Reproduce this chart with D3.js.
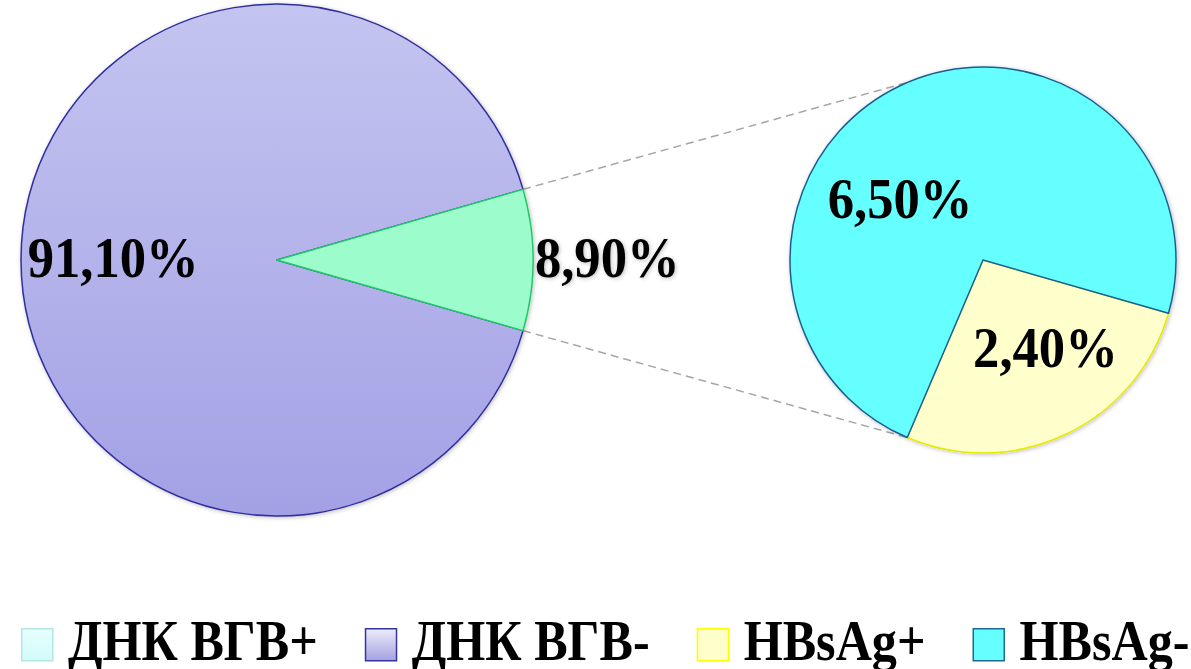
<!DOCTYPE html>
<html>
<head>
<meta charset="utf-8">
<script src="https://cdn.jsdelivr.net/npm/d3@7"></script>
<style>
  body { margin: 0; background: #fff; }
  svg { display: block; }
  text { font-family: 'Liberation Serif', 'Times New Roman', serif; font-weight: bold; fill: #000; }
</style>
</head>
<body>
<svg width="1191" height="669"></svg>
<script>
// data
const mainLabels = ['ДНК ВГВ+', 'ДНК ВГВ-'];
const mainValues = [8.9, 91.1];
const subLabels = ['HBsAg+', 'HBsAg-'];
const subValues = [2.4, 6.5];
const legendLabels = ['ДНК ВГВ+', 'ДНК ВГВ-', 'HBsAg+', 'HBsAg-'];

const fmt = (v) => v.toFixed(2).replace('.', ',') + '%';

const svg = d3.select('svg');
const defs = svg.append('defs');

// purple gradient for the big slice
const grad = defs.append('linearGradient')
    .attr('id', 'purple').attr('x1', 0).attr('y1', 0).attr('x2', 0).attr('y2', 1);
grad.append('stop').attr('offset', '0%').attr('stop-color', '#c4c4f0');
grad.append('stop').attr('offset', '100%').attr('stop-color', '#a3a1e5');

const lgrad = defs.append('linearGradient')
    .attr('id', 'purpleLeg').attr('x1', 0).attr('y1', 0).attr('x2', 0).attr('y2', 1);
lgrad.append('stop').attr('offset', '0%').attr('stop-color', '#ececfa');
lgrad.append('stop').attr('offset', '100%').attr('stop-color', '#a4a2e2');

const cgrad = defs.append('linearGradient')
    .attr('id', 'cyanLeg').attr('x1', 0).attr('y1', 0).attr('x2', 0).attr('y2', 1);
cgrad.append('stop').attr('offset', '0%').attr('stop-color', '#e6fffd');
cgrad.append('stop').attr('offset', '100%').attr('stop-color', '#d2fbf8');

defs.append('filter').attr('id', 'shadow')
    .attr('x', '-10%').attr('y', '-10%').attr('width', '120%').attr('height', '120%')
  .append('feDropShadow')
    .attr('dx', 1).attr('dy', 1).attr('stdDeviation', 2)
    .attr('flood-color', '#000').attr('flood-opacity', 0.25);

// geometry
const main = {cx: 277, cy: 260, r: 256};
const sub = {cx: 983, cy: 260, r: 193};

const mainFill = ['#9cfccb', 'url(#purple)'];
const mainStroke = ['#20c868', '#2f2f9c'];
const subFill = ['#ffffcc', '#66ffff'];
const subStroke = ['#e8e800', '#1b5f8f'];

// green slice centred on the right
const total = d3.sum(mainValues);
const greenAngle = mainValues[0] / total * 2 * Math.PI;
const mainStart = Math.PI / 2 - greenAngle / 2;

const mainPie = d3.pie().sort(null).startAngle(mainStart).endAngle(mainStart + 2 * Math.PI);
const mainArcs = mainPie(mainValues);

const subStart = mainStart + greenAngle;
const subPie = d3.pie().sort(null).startAngle(subStart).endAngle(subStart + 2 * Math.PI);
const subArcs = subPie(subValues);

const arcMain = d3.arc().innerRadius(0).outerRadius(main.r);
const arcSub = d3.arc().innerRadius(0).outerRadius(sub.r);

const pt = (c, a) => [c.cx + c.r * Math.sin(a), c.cy - c.r * Math.cos(a)];

// connector lines
const lowSub = subArcs[0].endAngle;
const highSub = Math.PI - lowSub;
const connectors = [
  [pt(main, mainStart), pt(sub, highSub)],
  [pt(main, mainStart + greenAngle), pt(sub, lowSub)]
];
svg.append('g').selectAll('line')
  .data(connectors)
  .join('line')
    .attr('x1', (d) => d[0][0]).attr('y1', (d) => d[0][1])
    .attr('x2', (d) => d[1][0]).attr('y2', (d) => d[1][1])
    .attr('stroke', '#a6a6a6')
    .attr('stroke-width', 1.5)
    .attr('stroke-dasharray', '8,5');

// main pie, big slice first so the green outline sits on top
const gMain = svg.append('g')
    .attr('transform', 'translate(' + main.cx + ',' + main.cy + ')')
    .attr('filter', 'url(#shadow)');
gMain.selectAll('path')
  .data([mainArcs[1], mainArcs[0]])
  .join('path')
    .attr('d', arcMain)
    .attr('fill', (d) => mainFill[d.index])
    .attr('stroke', (d) => mainStroke[d.index])
    .attr('stroke-width', 1.5)
    .attr('stroke-linejoin', 'round');

const gSub = svg.append('g')
    .attr('transform', 'translate(' + sub.cx + ',' + sub.cy + ')')
    .attr('filter', 'url(#shadow)');
gSub.selectAll('path')
  .data(subArcs)
  .join('path')
    .attr('d', arcSub)
    .attr('fill', (d) => subFill[d.index])
    .attr('stroke', (d) => subStroke[d.index])
    .attr('stroke-width', 1.5)
    .attr('stroke-linejoin', 'round');

// data labels
const labelScale = 0.94;
function label(g, c, d, ratio, nudge) {
  const a = (d.startAngle + d.endAngle) / 2;
  const x = c.r * ratio * Math.sin(a) + nudge[0];
  const y = -c.r * ratio * Math.cos(a) + nudge[1];
  g.append('text')
      .attr('transform', 'translate(' + x + ',' + y + ') scale(' + labelScale + ',1)')
      .attr('text-anchor', 'middle')
      .attr('dy', '0.34em')
      .style('font-size', '56px')
      .text(fmt(d.data));
}
label(gMain, main, mainArcs[1], 0.64, [0, -2]);
label(gMain, main, mainArcs[0], 1.29, [0, -2]);
label(gSub, sub, subArcs[0], 0.56, [16, -10]);
label(gSub, sub, subArcs[1], 0.53, [-39, 31]);

// legend
const legFill = ['url(#cyanLeg)', 'url(#purpleLeg)', '#ffffcc', '#66ffff'];
const legStroke = ['#b4e6e4', '#3434a2', '#ffff00', '#1b6a95'];
const legScale = 0.88;
const legend = svg.append('g').attr('transform', 'translate(21,628)');
let lx = 0;
legendLabels.forEach((name, i) => {
  const item = legend.append('g').attr('transform', 'translate(' + lx + ',0)');
  item.append('rect')
      .attr('x', 0.75).attr('y', 0.75)
      .attr('width', 31).attr('height', 32)
      .attr('fill', legFill[i])
      .attr('stroke', legStroke[i])
      .attr('stroke-width', 1.5);
  const t = item.append('text')
      .attr('transform', 'translate(47,32) scale(' + legScale + ',1)')
      .style('font-size', '57px')
      .text(name);
  lx += 47 + t.node().getComputedTextLength() * legScale + 47;
});
</script>
</body>
</html>
